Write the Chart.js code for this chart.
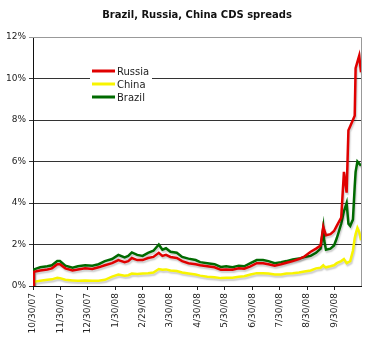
<!DOCTYPE html>
<html>
<head>
<meta charset="utf-8">
<script src="https://cdn.jsdelivr.net/npm/chart.js@4/dist/chart.umd.min.js"></script>
<style>
  body { margin: 0; background: #fff; }
</style>
</head>
<body>
<canvas id="myChart" width="372" height="341"></canvas>
<script>
//Chart data (days after 10/30/07, spread in %)
const titleText = "Brazil, Russia, China CDS spreads";
const seriesNames = ["Russia", "China", "Brazil"];
const seriesColors = ["#e00000", "#f8f400", "#006a00"];

const days = [0, 1, 8, 16, 21, 27, 30, 36, 44, 50, 58, 66, 73, 80, 88, 95, 102, 106, 110, 116,
  122, 128, 134, 140, 144, 148, 153, 160, 166, 173, 181, 186, 194, 202, 209, 215, 222, 229, 235,
  242, 249, 256, 262, 269, 276, 282, 289, 296, 302, 309, 315, 320, 323, 324, 326, 331, 335, 338,
  343, 346, 349, 351, 353, 356, 358, 359, 361, 363, 365];

const russia = [0, 0.68, 0.75, 0.8, 0.85, 1.05, 1.05, 0.85, 0.75, 0.8, 0.85, 0.82, 0.9, 1.0, 1.1, 1.25, 1.15, 1.2, 1.35, 1.25,
  1.25, 1.35, 1.4, 1.6, 1.45, 1.5, 1.4, 1.35, 1.2, 1.1, 1.05, 1.0, 0.95, 0.9, 0.78, 0.8, 0.78, 0.85, 0.83,
  0.95, 1.1, 1.1, 1.05, 0.98, 1.05, 1.12, 1.2, 1.3, 1.42, 1.65, 1.8, 1.95, 2.85, 2.7, 2.45, 2.5, 2.65, 2.9,
  3.3, 5.5, 4.5, 7.5, 7.7, 8.0, 8.2, 10.5, 10.8, 11.1, 10.3];

const china = [0, 0.2, 0.25, 0.3, 0.32, 0.4, 0.38, 0.3, 0.27, 0.25, 0.27, 0.25, 0.25, 0.3, 0.45, 0.55, 0.5, 0.52, 0.6, 0.58,
  0.6, 0.62, 0.65, 0.82, 0.78, 0.8, 0.75, 0.72, 0.65, 0.6, 0.55, 0.5, 0.45, 0.42, 0.38, 0.4, 0.4, 0.45, 0.47,
  0.55, 0.62, 0.62, 0.6, 0.55, 0.55, 0.6, 0.62, 0.65, 0.7, 0.75, 0.85, 0.88, 1.0, 0.95, 0.9, 0.95, 1.0, 1.1,
  1.2, 1.3, 1.1, 1.15, 1.2, 1.7, 2.3, 2.5, 2.8, 2.6, 2.2];

const brazil = [0, 0.8, 0.9, 0.95, 1.0, 1.2, 1.2, 0.98, 0.88, 0.95, 1.0, 0.98, 1.05, 1.2, 1.3, 1.5, 1.38, 1.45, 1.62, 1.5,
  1.45, 1.6, 1.7, 2.0, 1.75, 1.82, 1.65, 1.6, 1.4, 1.32, 1.25, 1.15, 1.1, 1.05, 0.92, 0.95, 0.9, 0.98, 0.95,
  1.1, 1.25, 1.25, 1.2, 1.1, 1.15, 1.2, 1.28, 1.32, 1.4, 1.45, 1.6, 1.8, 2.8, 2.2, 1.75, 1.8, 1.95, 2.3,
  3.0, 3.6, 4.0, 3.0, 2.9, 3.2, 4.8, 5.5, 6.0, 5.9, 5.8];

const tickDays = [0, 31, 61, 92, 122, 152, 183, 213, 244, 274, 305, 336];
const tickLabels = ["10/30/07", "11/30/07", "12/30/07", "1/30/08", "2/29/08", "3/30/08",
  "4/30/08", "5/30/08", "6/30/08", "7/30/08", "8/30/08", "9/30/08"];

const allSeries = [russia, china, brazil];

//Light grey drop shadow under the lines, like the original
const shadowPlugin = {
  id: 'shadow',
  beforeDatasetsDraw(chart) {
    const ctx = chart.ctx;
    ctx.save();
    ctx.shadowColor = 'rgba(0,0,0,0.2)';
    ctx.shadowBlur = 1.5;
    ctx.shadowOffsetX = 1;
    ctx.shadowOffsetY = 2;
  },
  afterDatasetsDraw(chart) {
    chart.ctx.restore();
  }
};

//Grey frame on top and right of the plot
const framePlugin = {
  id: 'frame',
  afterDatasetsDraw(chart) {
    const { ctx, chartArea: a } = chart;
    ctx.save();
    ctx.strokeStyle = '#999';
    ctx.lineWidth = 1;
    ctx.beginPath();
    ctx.moveTo(a.left, a.top + 0.5);
    ctx.lineTo(a.right + 0.5, a.top + 0.5);
    ctx.lineTo(a.right + 0.5, a.bottom);
    ctx.stroke();
    ctx.restore();
  }
};

//Legend inside the plot area
const boxLegend = {
  id: 'boxLegend',
  afterDatasetsDraw(chart) {
    const ctx = chart.ctx;
    const x = 90, y = 64;
    ctx.save();
    ctx.fillStyle = '#fff';
    ctx.fillRect(x, y, 62, 40);
    ctx.font = '10px "DejaVu Sans"';
    ctx.textBaseline = 'middle';
    chart.data.datasets.forEach((ds, i) => {
      const ry = 71 + i * 13;
      ctx.strokeStyle = ds.borderColor;
      ctx.lineWidth = 3;
      ctx.beginPath();
      ctx.moveTo(x + 2, ry);
      ctx.lineTo(x + 25, ry);
      ctx.stroke();
      ctx.fillStyle = '#222';
      ctx.fillText(ds.label, x + 27, ry + 1);
    });
    ctx.restore();
  }
};

const ctx = document.getElementById('myChart').getContext('2d');

const myChart = new Chart(ctx, {
  type: 'line',
  data: {
    datasets: allSeries.map((vals, i) => ({
      label: seriesNames[i],
      data: vals.map((v, j) => ({ x: days[j], y: v })),
      borderColor: seriesColors[i],
      backgroundColor: seriesColors[i],
      borderWidth: 2.5,
      pointRadius: 0,
      tension: 0
    }))
  },
  options: {
    responsive: false,
    animation: false,
    layout: { padding: { right: 11 } },
    plugins: {
      legend: { display: false },
      tooltip: { enabled: false },
      title: {
        display: true,
        text: titleText,
        fullSize: false,
        color: '#111',
        font: { family: 'DejaVu Sans', size: 10, weight: 'bold' },
        padding: { top: 9, bottom: 16 }
      }
    },
    scales: {
      x: {
        type: 'linear',
        min: 0,
        max: 365,
        afterBuildTicks: (scale) => {
          scale.ticks = tickDays.map((d) => ({ value: d }));
        },
        afterFit: (scale) => { scale.height = 55; },
        ticks: {
          autoSkip: false,
          minRotation: 90,
          maxRotation: 90,
          color: '#222',
          font: { family: 'DejaVu Sans', size: 9 },
          callback: (value, index) => tickLabels[index]
        },
        grid: { drawOnChartArea: false, tickLength: 4, color: '#222' },
        border: { color: '#111' }
      },
      y: {
        min: 0,
        max: 12,
        afterFit: (scale) => { scale.width = 33; },
        ticks: {
          stepSize: 2,
          color: '#222',
          font: { family: 'DejaVu Sans', size: 9 },
          callback: (value) => value + '%'
        },
        grid: {
          tickLength: 4,
          color: (c) => (c.tick && c.tick.value === 12 ? '#999' : '#333')
        },
        border: { color: '#111' }
      }
    }
  },
  plugins: [shadowPlugin, framePlugin, boxLegend]
});
</script>
</body>
</html>
